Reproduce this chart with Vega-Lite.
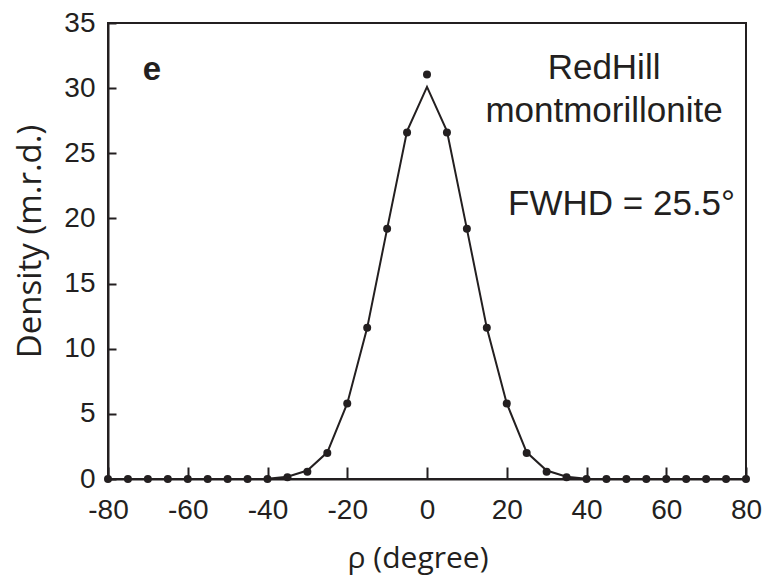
{
  "$schema": "https://vega.github.io/schema/vega-lite/v6.json",
  "autosize": "none",
  "width": 638,
  "height": 456,
  "padding": {"left": 108, "top": 23, "right": 18, "bottom": 106},
  "background": "white",
  "config": {
    "view": {"stroke": "#231f20", "strokeWidth": 2},
    "axis": {
      "domainColor": "#231f20", "domainWidth": 2,
      "tickColor": "#231f20", "tickWidth": 2,
      "labelColor": "#231f20", "labelFont": "Liberation Sans", "labelFontSize": 28,
      "titleColor": "#231f20", "titleFont": "Open Sans", "titleFontWeight": "normal",
      "grid": false, "labelFlush": false, "labelOverlap": false
    }
  },
  "datasets": {
    "pts": [
      {"rho": -80, "dens": 0, "fit": 0},
      {"rho": -75, "dens": 0, "fit": 0},
      {"rho": -70, "dens": 0, "fit": 0},
      {"rho": -65, "dens": 0, "fit": 0},
      {"rho": -60, "dens": 0, "fit": 0},
      {"rho": -55, "dens": 0, "fit": 0},
      {"rho": -50, "dens": 0, "fit": 0},
      {"rho": -45, "dens": 0, "fit": 0},
      {"rho": -40, "dens": 0, "fit": 0.02},
      {"rho": -35, "dens": 0.13, "fit": 0.18},
      {"rho": -30, "dens": 0.56, "fit": 0.65},
      {"rho": -25, "dens": 2.0, "fit": 2.05},
      {"rho": -20, "dens": 5.8, "fit": 5.8},
      {"rho": -15, "dens": 11.6, "fit": 11.6},
      {"rho": -10, "dens": 19.2, "fit": 19.2},
      {"rho": -5, "dens": 26.6, "fit": 26.7},
      {"rho": 0, "dens": 31.05, "fit": 30.1},
      {"rho": 5, "dens": 26.6, "fit": 26.7},
      {"rho": 10, "dens": 19.2, "fit": 19.2},
      {"rho": 15, "dens": 11.6, "fit": 11.6},
      {"rho": 20, "dens": 5.8, "fit": 5.8},
      {"rho": 25, "dens": 2.0, "fit": 2.05},
      {"rho": 30, "dens": 0.56, "fit": 0.65},
      {"rho": 35, "dens": 0.13, "fit": 0.18},
      {"rho": 40, "dens": 0, "fit": 0.02},
      {"rho": 45, "dens": 0, "fit": 0},
      {"rho": 50, "dens": 0, "fit": 0},
      {"rho": 55, "dens": 0, "fit": 0},
      {"rho": 60, "dens": 0, "fit": 0},
      {"rho": 65, "dens": 0, "fit": 0},
      {"rho": 70, "dens": 0, "fit": 0},
      {"rho": 75, "dens": 0, "fit": 0},
      {"rho": 80, "dens": 0, "fit": 0}
    ],
    "notes": [
      {"x": -69, "y": 30.6, "label": "e", "kind": "panel"},
      {"x": 44.4, "y": 30.7, "label": "RedHill", "kind": "note"},
      {"x": 44.4, "y": 27.4, "label": "montmorillonite", "kind": "note"},
      {"x": 48.8, "y": 20.26, "label": "FWHD = 25.5°", "kind": "note"}
    ]
  },
  "layer": [
    {
      "data": {"name": "pts"},
      "mark": {"type": "line", "color": "#231f20", "strokeWidth": 2, "clip": false},
      "encoding": {
        "x": {
          "field": "rho", "type": "quantitative",
          "scale": {"domain": [-80, 80], "nice": false, "zero": false},
          "axis": {"values": [-80, -60, -40, -20, 0, 20, 40, 60, 80], "tickSize": -12, "labelPadding": 29, "labelExpr": "replace(datum.label, '−', '-')", "title": "ρ (degree)", "titleFontSize": 30, "titlePadding": 19, "titleX": 309.5}
        },
        "y": {
          "field": "fit", "type": "quantitative",
          "scale": {"domain": [0, 35], "nice": false},
          "axis": {"values": [0, 5, 10, 15, 20, 25, 30, 35], "tickSize": -8, "labelPadding": 21, "title": "Density (m.r.d.)", "titleFontSize": 33, "titlePadding": 16, "titleY": 218}
        }
      }
    },
    {
      "data": {"name": "pts"},
      "mark": {"type": "circle", "color": "#231f20", "opacity": 1, "size": 64, "clip": false},
      "encoding": {
        "x": {"field": "rho", "type": "quantitative"},
        "y": {"field": "dens", "type": "quantitative"}
      }
    },
    {
      "data": {"name": "notes"},
      "transform": [{"filter": "datum.kind === 'note'"}],
      "mark": {"type": "text", "font": "Liberation Sans", "fontSize": 35, "color": "#231f20", "align": "center", "baseline": "alphabetic"},
      "encoding": {
        "x": {"field": "x", "type": "quantitative"},
        "y": {"field": "y", "type": "quantitative"},
        "text": {"field": "label"}
      }
    },
    {
      "data": {"name": "notes"},
      "transform": [{"filter": "datum.kind === 'panel'"}],
      "mark": {"type": "text", "font": "Liberation Sans", "fontSize": 33, "fontWeight": "bold", "color": "#231f20", "align": "center", "baseline": "alphabetic"},
      "encoding": {
        "x": {"field": "x", "type": "quantitative"},
        "y": {"field": "y", "type": "quantitative"},
        "text": {"field": "label"}
      }
    }
  ]
}
